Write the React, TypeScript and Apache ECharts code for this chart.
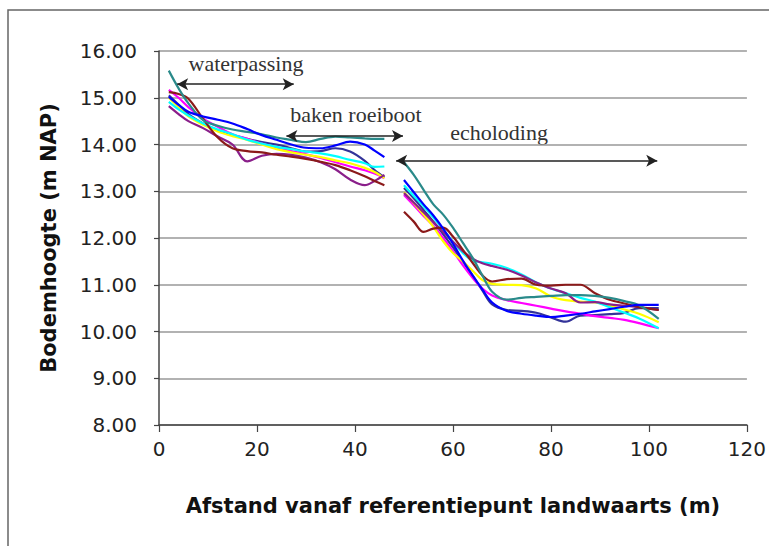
import React, { useEffect, useRef } from "react";
import * as echarts from "echarts";

// distances (m) of the two measured stretches
const leftX = [2, 4, 6, 9, 12, 15, 18, 21, 24, 27, 30, 33, 36, 39, 42, 44, 46];
const rightX = [50, 52, 54, 56, 58, 60, 62, 64, 66, 68, 71, 74, 77, 80, 83, 86, 89, 92, 95, 98, 102];

const seriesColors = ["#333399", "#ff00ff", "#ffff00", "#00ffff", "#8a1f8a", "#8b1a1a", "#2a8a8a", "#0000ff"];

// bed height (m NAP) per profile, left stretch (waterpassing / baken roeiboot)
const navyL = [15.05, 14.85, 14.65, 14.45, 14.3, 14.2, 14.12, 14.05, 14.0, 13.92, 13.85, 13.86, 13.92, 13.85, 13.65, 13.45, 13.3];
const magentaL = [15.17, 15.0, 14.8, 14.55, 14.38, 14.22, 14.12, 14.02, 13.93, 13.86, 13.79, 13.71, 13.62, 13.53, 13.45, 13.38, 13.28];
const yellowL = [15.0, 14.8, 14.6, 14.42, 14.28, 14.18, 14.1, 14.0, 13.9, 13.83, 13.78, 13.73, 13.66, 13.6, 13.5, 13.41, 13.28];
const cyanL = [14.91, 14.75, 14.62, 14.45, 14.32, 14.22, 14.1, 14.02, 13.95, 13.9, 13.85, 13.81, 13.75, 13.67, 13.6, 13.52, 13.53];
const purpleL = [14.82, 14.65, 14.5, 14.35, 14.17, 14.0, 13.64, 13.76, 13.8, 13.78, 13.72, 13.62, 13.47, 13.25, 13.13, 13.22, 13.35];
const maroonL = [15.12, 15.08, 14.98, 14.55, 14.15, 13.92, 13.86, 13.83, 13.78, 13.74, 13.69, 13.63, 13.56, 13.45, 13.32, 13.22, 13.13];
const tealL = [15.58, 15.2, 14.88, 14.52, 14.4, 14.32, 14.27, 14.22, 14.15, 14.1, 14.05, 14.12, 14.17, 14.15, 14.13, 14.12, 14.12];
const blueL = [15.02, 14.85, 14.7, 14.6, 14.53, 14.45, 14.33, 14.2, 14.1, 14.0, 13.93, 13.92, 13.98, 14.06, 14.0, 13.87, 13.73];

// right stretch (echoloding)
const navyR = [13.07, 12.85, 12.6, 12.35, 12.08, 11.8, 11.5, 11.2, 10.88, 10.58, 10.46, 10.44, 10.4, 10.3, 10.21, 10.34, 10.35, 10.37, 10.4, 10.5, 10.5];
const magentaR = [12.92, 12.7, 12.47, 12.26, 12.0, 11.72, 11.42, 11.15, 10.92, 10.77, 10.67, 10.61, 10.55, 10.49, 10.43, 10.38, 10.33, 10.29, 10.25, 10.18, 10.07];
const yellowR = [12.98, 12.75, 12.5, 12.24, 11.93, 11.68, 11.5, 11.3, 11.1, 11.02, 11.0, 10.99, 10.92, 10.75, 10.67, 10.64, 10.62, 10.55, 10.47, 10.38, 10.2];
const cyanR = [13.13, 12.9, 12.68, 12.44, 12.18, 11.92, 11.68, 11.52, 11.48, 11.45, 11.36, 11.22, 11.05, 10.92, 10.82, 10.72, 10.64, 10.52, 10.4, 10.28, 10.07];
const purpleR = [12.96, 12.76, 12.55, 12.34, 12.13, 11.92, 11.72, 11.56, 11.46, 11.4, 11.32, 11.2, 11.05, 10.92, 10.82, 10.62, 10.63, 10.58, 10.55, 10.52, 10.46];
const maroonR = [12.56, 12.35, 12.13, 12.2, 12.22, 12.03, 11.75, 11.47, 11.2, 11.07, 11.12, 11.13, 11.0, 10.98, 11.0, 11.0, 10.82, 10.68, 10.6, 10.52, 10.46];
const tealR = [13.62, 13.35, 13.03, 12.72, 12.5, 12.22, 11.9, 11.58, 11.2, 10.85, 10.68, 10.72, 10.74, 10.76, 10.78, 10.78, 10.76, 10.72, 10.65, 10.56, 10.27];
const blueR = [13.24, 12.98, 12.72, 12.48, 12.2, 11.88, 11.52, 11.2, 10.9, 10.62, 10.44, 10.38, 10.34, 10.31, 10.34, 10.38, 10.43, 10.48, 10.53, 10.57, 10.57];

const leftSets = [navyL, magentaL, yellowL, cyanL, purpleL, maroonL, tealL, blueL];
const rightSets = [navyR, magentaR, yellowR, cyanR, purpleR, maroonR, tealR, blueR];

const yTicks = [8, 9, 10, 11, 12, 13, 14, 15, 16];
const xTicks = [0, 20, 40, 60, 80, 100, 120];

// annotation arrows: [label, x from, x to, y]
const arrowLabels = ["waterpassing", "baken roeiboot", "echoloding"];
const arrowFrom = [3.7, 26.0, 48.4];
const arrowTo = [27.5, 49.8, 101.7];
const arrowY = [15.29, 14.18, 13.65];
const labelPos = [
  [246, 63],
  [356, 114],
  [499, 132],
];

export default function App() {
  const ref = useRef<HTMLDivElement>(null);
  useEffect(() => {
    const chart = echarts.init(ref.current!, null, { renderer: "svg" });
    const series: any[] = leftSets.map((l, i) => ({
      type: "line",
      smooth: 0.35,
      symbol: "none",
      connectNulls: false,
      lineStyle: { color: seriesColors[i], width: 2.2 },
      itemStyle: { color: seriesColors[i] },
      data: [
        ...leftX.map((x, k) => [x, l[k]]),
        [48, null],
        ...rightX.map((x, k) => [x, rightSets[i][k]]),
      ],
      z: 2,
    }));
    series.push({
      type: "line",
      data: [],
      symbol: "none",
      markLine: {
        silent: true,
        symbol: ["arrow", "arrow"],
        symbolSize: [9, 11],
        label: { show: false },
        lineStyle: { color: "#222", width: 1.6, type: "solid" },
        data: arrowFrom.map((f, i) => [
          { coord: [f, arrowY[i]] },
          { coord: [arrowTo[i], arrowY[i]] },
        ]),
      },
      z: 3,
    });

    chart.setOption({
      animation: false,
      backgroundColor: "#ffffff",
      grid: { left: 159, right: 19, top: 51, bottom: 121, containLabel: false },
      xAxis: {
        type: "value",
        min: xTicks[0],
        max: xTicks[xTicks.length - 1],
        interval: 20,
        name: "Afstand vanaf referentiepunt landwaarts (m)",
        nameLocation: "middle",
        nameGap: 70,
        nameTextStyle: { fontFamily: "DejaVu Sans", fontWeight: "bold", fontSize: 21, color: "#111" },
        axisLine: { show: true, lineStyle: { color: "#444", width: 1.5 } },
        axisTick: { show: true, length: 7, lineStyle: { color: "#444", width: 1.2 } },
        axisLabel: { margin: 14, fontFamily: "DejaVu Sans", fontSize: 20, color: "#222" },
        splitLine: { show: false },
      },
      yAxis: {
        type: "value",
        min: yTicks[0],
        max: yTicks[yTicks.length - 1],
        interval: 1,
        name: "Bodemhoogte (m NAP)",
        nameLocation: "middle",
        nameRotate: 90,
        nameGap: 100,
        nameTextStyle: { fontFamily: "DejaVu Sans", fontWeight: "bold", fontSize: 21, color: "#111" },
        axisLine: { show: true, lineStyle: { color: "#444", width: 1.5 } },
        axisTick: { show: true, length: 5, lineStyle: { color: "#444", width: 1.2 } },
        axisLabel: {
          margin: 22,
          fontFamily: "DejaVu Sans",
          fontSize: 20,
          color: "#222",
          formatter: (v: number) => v.toFixed(2),
        },
        splitLine: { show: true, lineStyle: { color: "#999", width: 1.5 } },
      },
      graphic: [
        {
          type: "rect",
          shape: { x: 8, y: 10, width: 900, height: 700 },
          style: { fill: "none", stroke: "#666", lineWidth: 1.5 },
          silent: true,
          z: -1,
        },
        ...arrowLabels.map((t, i) => ({
          type: "text",
          x: labelPos[i][0],
          y: labelPos[i][1],
          style: {
            text: t,
            align: "center",
            verticalAlign: "middle",
            fontFamily: "Liberation Serif",
            fontSize: 22,
            fill: "#333",
          },
          silent: true,
        })),
      ],
      series,
    });
    return () => chart.dispose();
  }, []);
  return (
    <div
      ref={ref}
      style={{ position: "absolute", left: 0, top: 0, width: 769, height: 546, background: "#fff" }}
    />
  );
}
